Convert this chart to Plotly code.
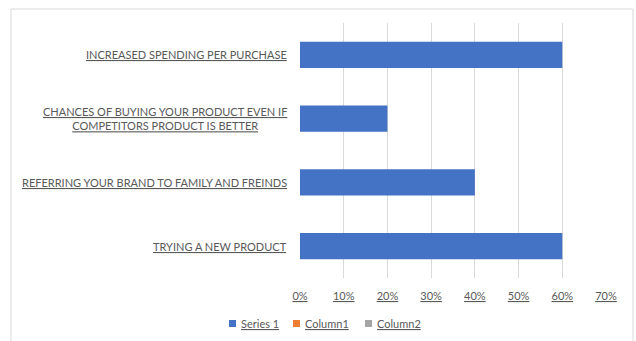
import plotly.graph_objects as go

categories = [
    "TRYING A NEW PRODUCT",
    "REFERRING YOUR BRAND TO FAMILY AND FREINDS",
    "CHANCES OF BUYING YOUR PRODUCT EVEN IF<br>COMPETITORS PRODUCT IS BETTER",
    "INCREASED SPENDING PER PURCHASE",
]
series1 = [0.60, 0.40, 0.20, 0.60]
tick_vals = [0, 0.1, 0.2, 0.3, 0.4, 0.5, 0.6, 0.7]
tick_text = ["0%", "10%", "20%", "30%", "40%", "50%", "60%", "70%"]
legend_names = ["Series 1", "Column1", "Column2"]
legend_colors = ["#4472C4", "#ED7D31", "#A5A5A5"]


def u(s):
    return "<br>".join("<u>%s</u>" % p for p in s.split("<br>"))


FONT = "Lato"
TXT = "#595959"

fig = go.Figure()
fig.add_trace(go.Bar(y=categories, x=series1, orientation="h", name=legend_names[0],
                     marker=dict(color=legend_colors[0], line=dict(width=0)),
                     showlegend=False))

L, R, T, B = 300, 30, 23, 63
W, H = 636, 341
pw = W - L - R
ph = H - T - B


def px2x(p):
    return (p - L) / pw


def py2y(p):
    return (H - B - p) / ph


shapes = [dict(type="rect", xref="paper", yref="paper",
               x0=px2x(11), x1=px2x(633), y0=py2y(420), y1=py2y(9),
               line=dict(color="#d9d9d9", width=1), fillcolor="rgba(0,0,0,0)", layer="below")]
annotations = []
# category labels (centered multi-line, like the original)
for c in categories:
    annotations.append(dict(xref="paper", yref="y", x=px2x(289), y=c,
                            xanchor="right", yanchor="middle", align="center",
                            showarrow=False, text=u(c),
                            font=dict(family=FONT, size=11, color=TXT)))
leg_sq_x = [229, 293, 365]
for name, col, sx in zip(legend_names, legend_colors, leg_sq_x):
    shapes.append(dict(type="rect", xref="paper", yref="paper",
                       x0=px2x(sx), x1=px2x(sx + 7), y0=py2y(327), y1=py2y(320),
                       line=dict(width=0), fillcolor=col))
    annotations.append(dict(xref="paper", yref="paper", x=px2x(sx + 10), y=py2y(323.5),
                            xanchor="left", yanchor="middle", showarrow=False,
                            text="<u>%s</u>" % name,
                            font=dict(family=FONT, size=11, color=TXT)))

fig.update_layout(
    width=W, height=H,
    margin=dict(l=L, r=R, t=T, b=B),
    paper_bgcolor="white", plot_bgcolor="white",
    barmode="overlay", bargap=0.59,
    font=dict(family=FONT, size=11, color=TXT),
    showlegend=False,
    xaxis=dict(range=[0, 0.7], tickvals=tick_vals, ticktext=["<u>%s</u>" % t for t in tick_text],
               showgrid=True, gridcolor="#d9d9d9", gridwidth=1, zeroline=False,
               showline=False, ticks="", ticklabelstandoff=10,
               tickfont=dict(family=FONT, size=11, color=TXT)),
    yaxis=dict(showgrid=False, showline=False, ticks="", showticklabels=False,
               categoryorder="array", categoryarray=categories),
    shapes=shapes,
    annotations=annotations,
)

fig.write_html("out.html")
